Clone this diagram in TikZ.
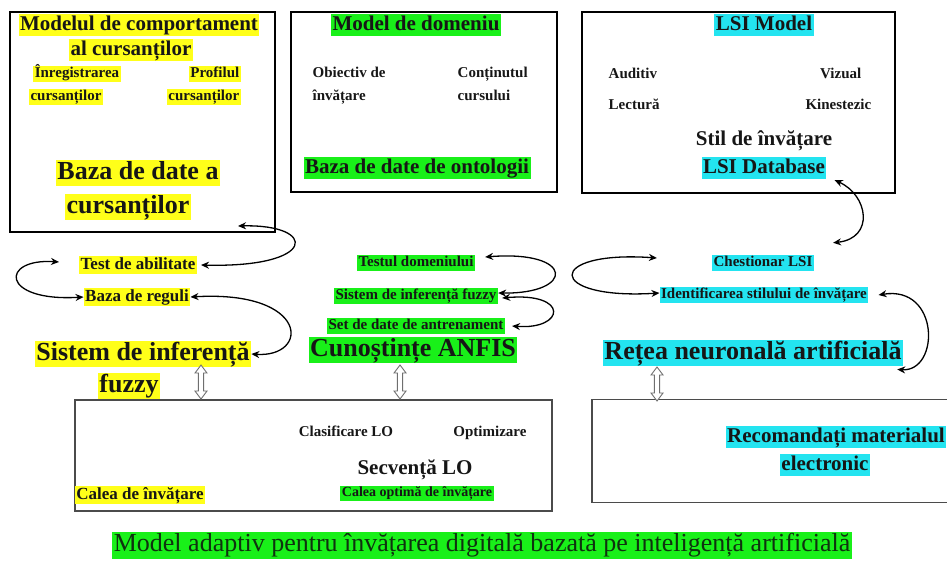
\documentclass[tikz,border=0pt]{standalone}
\usepackage{fontspec}
\setmainfont{Liberation Serif}
\usetikzlibrary{arrows.meta}
\definecolor{hy}{RGB}{255,255,25}
\definecolor{hg}{RGB}{25,240,25}
\definecolor{hc}{RGB}{35,228,240}
\definecolor{ink}{RGB}{22,22,22}
\definecolor{frame}{RGB}{75,75,75}
\definecolor{titleink}{RGB}{15,50,15}
\begin{document}
\begin{tikzpicture}[x=1pt,y=-1pt,
  every node/.style={text=ink, inner xsep=1.5pt, inner ysep=1pt},
  t14/.style={font=\bfseries\fontsize{14}{16}\selectfont, text height=10pt, text depth=3pt},
  t15/.style={font=\bfseries\fontsize{15}{17}\selectfont, text height=10.5pt, text depth=3.5pt},
  t17/.style={font=\bfseries\fontsize{17}{19}\selectfont, text height=12pt, text depth=4pt},
  t21/.style={font=\bfseries\fontsize{21}{24}\selectfont, text height=15pt, text depth=5pt},
  t26/.style={font=\bfseries\fontsize{26}{30}\selectfont, text height=18.5pt, text depth=6pt},
  yl/.style={fill=hy},
  gr/.style={fill=hg},
  cy/.style={fill=hc},
  heavybox/.style={draw=black, line width=2.6pt, minimum width=#1, inner sep=0pt},
  lightbox/.style={draw=frame, line width=1.6pt, inner sep=0pt},
  link/.style={draw=black, line width=1.3pt,
    {Stealth[length=8pt,width=7pt]}-{Stealth[length=8pt,width=7pt]}},
  updown/.pic={
    \draw[draw=frame!80, fill=white, line width=0.9pt]
      (0,-17) -- (6,-9) -- (2.6,-9) -- (2.6,9) -- (6,9) -- (0,17)
      -- (-6,9) -- (-2.6,9) -- (-2.6,-9) -- (-6,-9) -- cycle;
  }
]
\useasboundingbox (0,0) rectangle (947,560);

% ---- frames ----
\node[heavybox=265pt, minimum height=220pt] (learnerbox) at (142.5,122) {};
\node[heavybox=266pt, minimum height=180pt] (domainbox) at (424,102) {};
\node[heavybox=313pt, minimum height=181pt] (lsibox) at (738.5,102.5) {};
\node[lightbox, minimum width=477pt, minimum height=111pt] (pathbox) at (313.5,455.5) {};
\node[lightbox, minimum width=360pt, minimum height=103pt] (recbox) at (772,451) {};

% ---- learner model ----
\node[t21,yl] (lm1) at (139,25) {Modelul de comportament};
\node[t21,yl] (lm2) at (131,50) {al cursanților};
\node[t15,yl] (reg1) at (77,74) {Înregistrarea};
\node[t15,yl] (reg2) at (66,97) {cursanților};
\node[t15,yl,anchor=east] (prof1) at (241,74) {Profilul};
\node[t15,yl,anchor=east] (prof2) at (241,97) {cursanților};
\node[t26,yl] (ldb1) at (138,173) {Baza de date a};
\node[t26,yl] (ldb2) at (128,207) {cursanților};
\coordinate (ldbport) at (238,226);

% ---- domain model ----
\node[t21,gr] (dom) at (416,25) {Model de domeniu};
\node[t15,anchor=west] (obj1) at (311,74) {Obiectiv de};
\node[t15,anchor=west] (obj2) at (311,97) {învățare};
\node[t15,anchor=west] (cont1) at (456,74) {Conținutul};
\node[t15,anchor=west] (cont2) at (456,97) {cursului};
\node[t21,gr] (onto) at (417,168) {Baza de date de ontologii};

% ---- LSI model ----
\node[t21,cy] (lsim) at (764,25) {LSI Model};
\node[t15,anchor=west] (aud) at (607,75) {Auditiv};
\node[t15,anchor=east] (viz) at (863,75) {Vizual};
\node[t15,anchor=west] (lec) at (607,106) {Lectură};
\node[t15,anchor=east] (kin) at (873,106) {Kinestezic};
\node[t21] (stil) at (764,140) {Stil de învățare};
\node[t21,cy] (lsidb) at (764,168) {LSI Database};

% ---- fuzzy column ----
\node[t17,yl] (testab) at (138,265) {Test de abilitate};
\node[t17,yl] (reguli) at (137,297) {Baza de reguli};
\node[t26,yl] (sif1) at (143,354) {Sistem de inferență};
\node[t26,yl] (sif2) at (129,386) {fuzzy};

% ---- ANFIS column ----
\node[t15,gr] (testd) at (416,263) {Testul domeniului};
\node[t15,gr] (fuzz) at (416,296) {Sistem de inferență fuzzy};
\node[t15,gr] (setd) at (416,326) {Set de date de antrenament};
\node[t26,gr] (anfis) at (413,350) {Cunoștințe ANFIS};

% ---- neural network column ----
\node[t15,cy] (chest) at (763,263) {Chestionar LSI};
\node[t15,cy] (ident) at (764,295) {Identificarea stilului de învățare};
\node[t26,cy] (retea) at (753,353) {Rețea neuronală artificială};

% ---- learning path box ----
\node[t15] (clas) at (346,433) {Clasificare LO};
\node[t15] (opt) at (490,433) {Optimizare};
\node[t21] (secv) at (415,469) {Secvență LO};
\node[t14,gr] (calop) at (417,493) {Calea optimă de învățare};
\node[t17,yl] (calea) at (140,495) {Calea de învățare};

% ---- recommendation box ----
\node[t21,cy] (rec1) at (836,437) {Recomandați materialul};
\node[t21,cy] (rec2) at (825,465) {electronic};

% ---- caption ----
\node[fill=hg, text=titleink, font=\fontsize{26}{30}\selectfont,
      text height=19pt, text depth=6pt] (caption) at (482,545)
  {Model adaptiv pentru învățarea digitală bazată pe inteligență artificială};

% ---- block arrows between layers ----
\pic at (201,382) {updown};
\pic at (400,382) {updown};
\pic at (657,384) {updown};

% ---- curved links ----
\draw[link] ([xshift=4pt]testab.east) .. controls (318,268) and (318,224) .. (ldbport);
\draw[link] ([xshift=-20pt,yshift=3pt]testab.west) .. controls (0,258) and (0,302) .. (reguli.west);
\draw[link] (reguli.east) .. controls (310,290) and (310,358) .. (sif1.east);

\draw[link] ([xshift=10pt,yshift=6pt]testd.east) .. controls (575,250) and (575,294) .. ([yshift=3pt]fuzz.east);
\draw[link] ([xshift=4pt,yshift=-2pt]fuzz.east) .. controls (570,292) and (565,330) .. ([xshift=7pt]setd.east);

\draw[link] ([xshift=8pt,yshift=-1pt]lsidb.south east) .. controls (868,195) and (875,238) .. ([xshift=19pt,yshift=12pt]chest.north east);
\draw[link] ([xshift=-55pt,yshift=5pt]chest.west) .. controls (545,250) and (545,300) .. ([yshift=2pt]ident.west);
\draw[link] ([xshift=10pt]ident.east) .. controls (940,285) and (940,372) .. ([xshift=-6pt,yshift=-3pt]retea.south east);
\end{tikzpicture}
\end{document}
